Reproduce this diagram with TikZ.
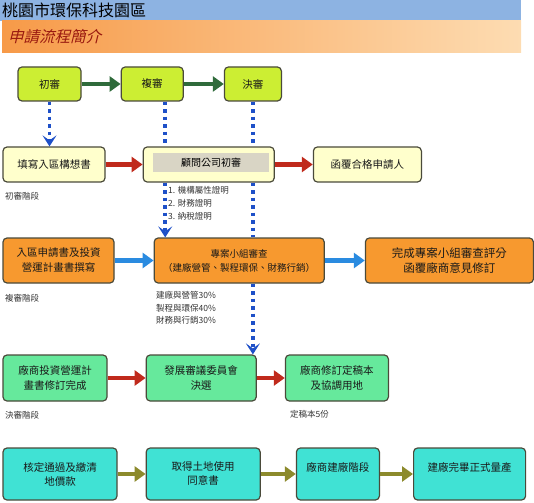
\documentclass[tikz,border=0pt]{standalone}
\usepackage{fontspec}
\setmainfont{Noto Sans CJK TC}
\newfontfamily\slantfont[FakeSlant=0.25]{Noto Sans CJK TC}
\usetikzlibrary{arrows.meta,positioning,calc}
\definecolor{headblue}{HTML}{8DB3E2}
\definecolor{headorange}{HTML}{F79A48}
\definecolor{headpeach}{HTML}{FDDCB2}
\definecolor{titlered}{HTML}{9A1A10}
\definecolor{limefill}{HTML}{CCEE33}
\definecolor{creamfill}{HTML}{FFFFCC}
\definecolor{bandgray}{HTML}{D9D5C5}
\definecolor{amberfill}{HTML}{F7992F}
\definecolor{mintfill}{HTML}{66E99C}
\definecolor{aquafill}{HTML}{40E2D4}
\definecolor{edge}{HTML}{4A4A3A}
\definecolor{darkgreen}{HTML}{2F6B3B}
\definecolor{redflow}{HTML}{C02A1C}
\definecolor{blueflow}{HTML}{2A8BE0}
\definecolor{oliveflow}{HTML}{8C8A2C}
\definecolor{dotblue}{HTML}{1E50C8}

\begin{document}
\begin{tikzpicture}[x=1pt,y=-1pt,
  stagebox/.style={draw=edge,line width=1.2pt,rounded corners=4pt,inner sep=0pt,
                   align=center,text=black!90,font=\fontsize{10.5}{15}\selectfont},
  limebox/.style={stagebox,fill=limefill,minimum height=34pt},
  creambox/.style={stagebox,fill=creamfill,minimum height=35pt},
  ambox/.style={stagebox,fill=amberfill,minimum height=45pt},
  mintbox/.style={stagebox,fill=mintfill,minimum height=46pt},
  aquabox/.style={stagebox,fill=aquafill,minimum height=52pt,font=\fontsize{10.5}{14}\selectfont},
  band/.style={fill=bandgray,minimum width=116pt,minimum height=19pt,inner sep=0pt,
               font=\fontsize{10}{12}\selectfont},
  note/.style={inner sep=0pt,text=black!80,font=\fontsize{8.5}{13}\selectfont},
  flow/.style={line width=4.5pt,-{Triangle[length=11pt,width=15pt]}},
  gflow/.style={flow,darkgreen},
  rflow/.style={flow,redflow},
  bflow/.style={flow,blueflow},
  oflow/.style={flow,oliveflow},
  probe/.style={dotblue,line width=3.5pt,dash pattern=on 3.5pt off 4pt},
  probetip/.style={-{Stealth[length=11pt,width=14pt,inset=5pt]}}
]
\useasboundingbox (0,0) rectangle (534,502);

% header bars
\fill[headblue] (0,0) rectangle (521,21);
\node[anchor=west,inner sep=0pt,font=\fontsize{16}{17}\selectfont] (park) at (2,10.5) {桃園市環保科技園區};
\shade[left color=headorange,right color=headpeach] (2,21) rectangle (521,53);
\node[anchor=west,inner sep=0pt,text=titlered,font=\slantfont\fontsize{15.5}{16}\selectfont] (intro) at (8,37) {申請流程簡介};

% stages
\node[limebox,minimum width=63pt] (chu) at (49.5,84) {初審};
\node[limebox,minimum width=62pt,right=39pt of chu] (fu) {複審};
\node[limebox,minimum width=57pt,right=40pt of fu] (jue) {決審};

\node[creambox,minimum width=102pt] (tian) at (54,164.5) {填寫入區構想書};
\node[creambox,minimum width=131pt,right=37pt of tian] (gu) {};
\node[band] (gutext) at ($(gu.center)+(2.5,-2)$) {顧問公司初審};
\node[creambox,minimum width=108pt,right=38pt of gu] (han) {函覆合格申請人};

\node[ambox,minimum width=111pt] (ruqu) at (58.5,260.5) {入區申請書及投資\\營運計畫書撰寫};
\node[ambox,minimum width=170pt,right=39pt of ruqu,font=\fontsize{9.5}{14}\selectfont] (zhuan) {專案小組審查\\（建廠營管、製程環保、財務行銷）};
\node[ambox,minimum width=168pt,right=40pt of zhuan,font=\fontsize{11.5}{15}\selectfont] (wancheng) {完成專案小組審查評分\\函覆廠商意見修訂};

\node[mintbox,minimum width=104pt] (xiuding) at (55,378) {廠商投資營運計\\畫書修訂完成};
\node[mintbox,minimum width=110pt,right=38pt of xiuding] (fazhan) {發展審議委員會\\決選};
\node[mintbox,minimum width=103pt,right=28pt of fazhan] (dinggao) {廠商修訂定稿本\\及協調用地};

\node[aquabox,minimum width=114pt] (heding) at (60,474) {核定通過及繳清\\地價款};
\node[aquabox,minimum width=114pt,right=28pt of heding] (qude) {取得土地使用\\同意書};
\node[aquabox,minimum width=83pt,right=35pt of qude] (jianchang) {廠商建廠階段\\\mbox{}};
\node[aquabox,minimum width=112pt,right=33pt of jianchang] (liangchan) {建廠完畢正式量產\\\mbox{}};

% notes
\node[note,anchor=west] (chunote) at (5,196) {初審階段};
\node[note,anchor=north west,align=left] (docs) at (168,186) {1. 機構屬性證明\\2. 財務證明\\3. 納稅證明};
\node[note,anchor=west] (funote) at (5,298) {複審階段};
\node[note,anchor=north west,align=left,font=\fontsize{8.5}{12.5}\selectfont] (weights) at (156,291) {建廠與營管30\%\\製程與環保40\%\\財務與行銷30\%};
\node[note,anchor=west] (juenote) at (5,415) {決審階段};
\node[note,anchor=west] (copies) at (290,414) {定稿本5份};

% flows
\draw[gflow] (chu) -- (fu);
\draw[gflow] (fu) -- (jue);
\draw[rflow] (tian) -- (gu);
\draw[rflow] (gu) -- (han);
\draw[bflow] (ruqu) -- (zhuan);
\draw[bflow] (zhuan) -- (wancheng);
\draw[rflow] (xiuding) -- (fazhan);
\draw[rflow] (fazhan) -- (dinggao);
\draw[oflow] (heding) -- (qude);
\draw[oflow] (qude) -- (jianchang);
\draw[oflow] (jianchang) -- (liangchan);

% dotted drops
\coordinate (fuline) at ([xshift=13pt]fu.south);
\draw[probe,probetip] (chu.south) -- (chu.south |- tian.north);
\draw[probe] (fuline) -- (fuline |- gu.north);
\draw[probe,probetip] (fuline |- gu.south) -- (fuline |- zhuan.north);
\draw[probe] (jue.south) -- (jue.south |- gu.north);
\draw[probe] (jue.south |- gu.south) -- (jue.south |- zhuan.north);
\draw[probe,probetip] (jue.south |- zhuan.south) -- (jue.south |- fazhan.north);
\end{tikzpicture}
\end{document}
